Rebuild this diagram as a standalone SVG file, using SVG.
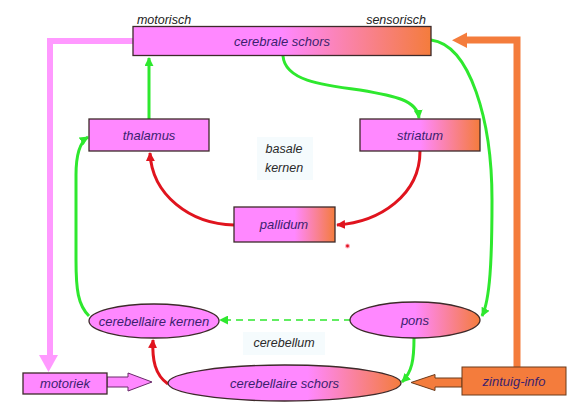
<svg xmlns="http://www.w3.org/2000/svg" width="582" height="411" viewBox="0 0 582 411">
<style>
text{font-family:"Liberation Sans",Arial,sans-serif;font-style:italic;font-size:13px;text-anchor:middle;fill:#3b1f6e}
.lab{fill:#222;font-size:12.5px}
.plain{fill:#2a2a2a;font-size:12.5px}
.box{stroke:#3d2a2a;stroke-width:1.3}
.g{fill:none;stroke:#2ee82e;stroke-width:3}
.r{fill:none;stroke:#e0141e;stroke-width:3}
.pink{fill:#ff88ff}
.bg{fill:#f5fbfd}
</style>
<defs>
<linearGradient id="gr" x1="0" y1="0" x2="1" y2="0">
<stop offset="0" stop-color="#ff88ff"/><stop offset="0.5" stop-color="#ff88ff"/><stop offset="1" stop-color="#f47c3c"/>
</linearGradient>
<linearGradient id="gr2" x1="0" y1="0" x2="1" y2="0">
<stop offset="0" stop-color="#ff88ff"/><stop offset="0.6" stop-color="#ff88ff"/><stop offset="1" stop-color="#f47c3c"/>
</linearGradient>
<marker id="ag" viewBox="0 0 10 10" refX="9" refY="5" markerWidth="9" markerHeight="9" markerUnits="userSpaceOnUse" orient="auto"><path d="M0,0 L10,5 L0,10 z" fill="#2ee82e"/></marker>
<marker id="ar" viewBox="0 0 10 10" refX="9" refY="5" markerWidth="9" markerHeight="9" markerUnits="userSpaceOnUse" orient="auto"><path d="M0,0 L10,5 L0,10 z" fill="#e0141e"/></marker>
</defs>
<rect width="582" height="411" fill="#fff"/>

<g id="labels-bg">
<rect class="bg" x="257" y="137" width="56" height="43"/>
<rect class="bg" x="243" y="332" width="82" height="23"/>
</g>

<g id="connectors">
<path d="M133,41 L50,41 L50,356" fill="none" stroke="#ff99ff" stroke-width="6"/>
<polygon points="39,355 58,355 48.5,372" fill="#ff99ff"/>
<path d="M517,368 L517,40 L465,40" fill="none" stroke="#f47c3c" stroke-width="7"/>
<polygon points="467,32.5 467,48 452,40.3" fill="#f47c3c"/>
<path class="g" d="M149,119 L149,58" marker-end="url(#ag)"/>
<path class="g" d="M283,56 C285,80 320,85 360,90 C395,96 417,100 419,118" marker-end="url(#ag)"/>
<path class="g" d="M431,40 C470,45 492,120 492,200 C492,260 490,300 482,316" marker-end="url(#ag)"/>
<path class="g" d="M414,338 C414,360 412,372 402,382" marker-end="url(#ag)"/>
<path class="g" d="M89,316 C78,305 76,290 76,260 L76,175 C76,155 80,142 88,137" marker-end="url(#ag)"/>
<path d="M351,320 L220,320" fill="none" stroke="#2ee82e" stroke-width="1.6" stroke-dasharray="7,5" marker-end="url(#ag)"/>
<path class="r" d="M420,151 C420,195 380,222 337,225" marker-end="url(#ar)"/>
<path class="r" d="M234,225 C190,224 152,195 150,153" marker-end="url(#ar)"/>
<path class="r" d="M168,384 C155,375 152,360 153,340" marker-end="url(#ar)"/>
<polygon points="107,377 128,377 128,373 152,382 128,391 128,387 107,387" fill="#ff88ff" stroke="#6a2a6a" stroke-width="1"/>
<polygon points="462,378 435,378 435,374.5 411,382.5 435,390.5 435,387 462,387" fill="#f47c3c" stroke="#6b3a1a" stroke-width="1"/>
</g>

<g id="cerebrale-schors">
<rect class="box" x="133" y="26.5" width="298" height="29" fill="url(#gr)"/>
<text x="282" y="46">cerebrale schors</text>
<text class="lab" x="164" y="24">motorisch</text>
<text class="lab" x="396" y="24">sensorisch</text>
</g>
<g id="thalamus">
<rect class="box pink" x="89" y="119" width="120" height="32"/>
<text x="149" y="139.5">thalamus</text>
</g>
<g id="striatum">
<rect class="box" x="360" y="119" width="120" height="32" fill="url(#gr)"/>
<text x="420" y="139.5">striatum</text>
</g>
<g id="basale-kernen">
<text class="plain" x="284" y="153">basale</text>
<text class="plain" x="284" y="172">kernen</text>
</g>
<g id="pallidum">
<rect class="box" x="234" y="207" width="101" height="35" fill="url(#gr2)"/>
<text x="284" y="229">pallidum</text>
</g>
<g id="dot"><circle cx="347.5" cy="246" r="2.5" fill="#ffb0c0"/><circle cx="347.5" cy="246" r="1.4" fill="#e0141e"/></g>
<g id="cerebellaire-kernen">
<ellipse class="box pink" cx="154" cy="321" rx="65" ry="17"/>
<text x="154" y="325.5">cerebellaire kernen</text>
</g>
<g id="pons">
<ellipse class="box" cx="415" cy="320" rx="65" ry="18" fill="url(#gr)"/>
<text x="415" y="324.5">pons</text>
</g>
<g id="cerebellum">
<text class="plain" x="284" y="347">cerebellum</text>
</g>
<g id="cerebellaire-schors">
<ellipse class="box" cx="284.5" cy="383" rx="116.5" ry="18" fill="url(#gr2)"/>
<text x="284.5" y="387.5">cerebellaire schors</text>
</g>
<g id="motoriek">
<rect class="box pink" x="23" y="373" width="84" height="21"/>
<text x="65" y="388">motoriek</text>
</g>
<g id="zintuig-info">
<rect x="462" y="367" width="104" height="28" fill="#f47c3c" stroke="#6b3a1a" stroke-width="1"/>
<text x="514" y="385.5">zintuig-info</text>
</g>
</svg>
